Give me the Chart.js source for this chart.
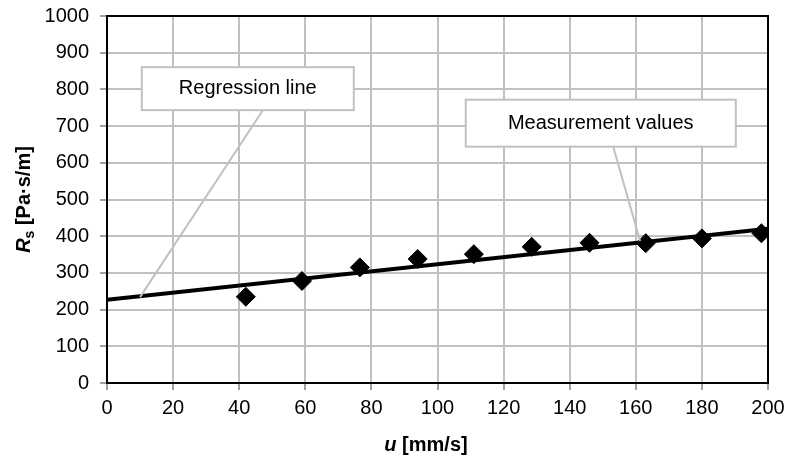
<!DOCTYPE html>
<html>
<head>
<meta charset="utf-8">
<script src="https://cdn.jsdelivr.net/npm/chart.js@4.4.0/dist/chart.umd.min.js"></script>
<style>
    html, body { margin: 0; padding: 0; background: #fff; }
    #wrap { width: 801px; height: 466px; }
</style>
</head>
<body>
<div id="wrap"><canvas id="resistanceChart"></canvas></div>
<script>
const velocity = [42, 59, 76.5, 94, 111, 128.5, 146, 163, 180, 198];
const resistance = [235, 278, 315, 338, 351, 371, 382, 381, 394, 408];

// regression line end points
const regressionU = [0, 200];
const regressionR = [227, 420];

const xTickValues = [0, 20, 40, 60, 80, 100, 120, 140, 160, 180, 200];
const yTickValues = [0, 100, 200, 300, 400, 500, 600, 700, 800, 900, 1000];

const calloutTexts = ["Regression line", "Measurement values"];

const FONT = "'Liberation Sans', Arial, sans-serif";
const GRID = '#c0c0c0';

// callout placement in data units (box centre, leader start and tip)
const calloutLayout = [
    { box: [42.6, 802], w: 212, h: 43, from: [47.2, 744], to: [10, 234] },
    { box: [149.4, 708], w: 270, h: 47, from: [153.2, 643], to: [161.3, 387] }
];

function drawRich(ctx, parts) {
    let total = 0;
    parts.forEach(p => {
        ctx.font = p.font;
        p.w = ctx.measureText(p.text).width;
        total += p.w;
    });
    let x = -total / 2;
    parts.forEach(p => {
        ctx.font = p.font;
        ctx.fillText(p.text, x, p.dy || 0);
        x += p.w;
    });
}

const framePlugin = {
    id: 'frame',
    beforeDatasetsDraw(chart) {
        const { ctx, chartArea: a } = chart;
        ctx.save();
        ctx.strokeStyle = '#000';
        ctx.lineWidth = 2;
        ctx.strokeRect(a.left, a.top, a.right - a.left, a.bottom - a.top);
        ctx.restore();
    }
};

const calloutPlugin = {
    id: 'callouts',
    afterDatasetsDraw(chart) {
        const { ctx } = chart;
        const xs = chart.scales.x, ys = chart.scales.y;
        ctx.save();
        calloutLayout.forEach((c, i) => {
            ctx.strokeStyle = GRID;
            ctx.lineWidth = 2;
            ctx.beginPath();
            ctx.moveTo(xs.getPixelForValue(c.from[0]), ys.getPixelForValue(c.from[1]));
            ctx.lineTo(xs.getPixelForValue(c.to[0]), ys.getPixelForValue(c.to[1]));
            ctx.stroke();

            const cx = xs.getPixelForValue(c.box[0]);
            const cy = ys.getPixelForValue(c.box[1]);
            ctx.fillStyle = '#fff';
            ctx.fillRect(cx - c.w / 2, cy - c.h / 2, c.w, c.h);
            ctx.strokeRect(cx - c.w / 2, cy - c.h / 2, c.w, c.h);

            ctx.fillStyle = '#000';
            ctx.font = '20px ' + FONT;
            ctx.textAlign = 'center';
            ctx.textBaseline = 'middle';
            ctx.fillText(calloutTexts[i], cx, cy);
        });
        ctx.restore();
    }
};

const axisTitlePlugin = {
    id: 'axisTitles',
    afterDraw(chart) {
        const { ctx, chartArea: a } = chart;
        ctx.save();
        ctx.fillStyle = '#000';
        ctx.textAlign = 'left';
        ctx.textBaseline = 'alphabetic';

        // y title, rotated
        ctx.save();
        ctx.translate(23, (a.top + a.bottom) / 2);
        ctx.rotate(-Math.PI / 2);
        drawRich(ctx, [
            { text: 'R', font: 'italic bold 20px ' + FONT, dy: 7 },
            { text: 's', font: 'bold 14px ' + FONT, dy: 11 },
            { text: ' [Pa\u00b7s/m]', font: 'bold 20px ' + FONT, dy: 7 }
        ]);
        ctx.restore();

        // x title
        ctx.save();
        ctx.translate(426, 444);
        drawRich(ctx, [
            { text: 'u', font: 'italic bold 20px ' + FONT, dy: 7 },
            { text: ' [mm/s]', font: 'bold 20px ' + FONT, dy: 7 }
        ]);
        ctx.restore();
        ctx.restore();
    }
};

const measured = velocity.map((u, i) => ({ x: u, y: resistance[i] }));
const regression = regressionU.map((u, i) => ({ x: u, y: regressionR[i] }));

new Chart(document.getElementById('resistanceChart').getContext('2d'), {
    type: 'scatter',
    data: {
        datasets: [{
            label: 'Measurement values',
            data: measured,
            pointStyle: 'rectRot',
            pointRadius: 9.5,
            backgroundColor: '#000',
            borderColor: '#000',
            borderWidth: 1
        }, {
            type: 'line',
            label: 'Regression line',
            data: regression,
            borderColor: '#000',
            borderWidth: 4,
            pointRadius: 0,
            fill: false
        }]
    },
    options: {
        responsive: true,
        maintainAspectRatio: false,
        animation: false,
        layout: { padding: { top: 16, right: 33, bottom: 0, left: 0 } },
        plugins: {
            legend: { display: false },
            tooltip: { enabled: false }
        },
        scales: {
            x: {
                type: 'linear',
                min: 0,
                max: 200,
                afterBuildTicks: s => { s.ticks = xTickValues.map(v => ({ value: v })); },
                afterFit: s => { s.height = 83; s.paddingLeft = 0; s.paddingRight = 0; },
                grid: { color: GRID, lineWidth: 2, tickLength: 7, tickColor: '#a0a0a0' },
                border: { color: '#000', width: 2 },
                ticks: {
                    color: '#000', font: { family: FONT, size: 20 }, padding: 6, maxRotation: 0,
                    callback: v => String(v)
                }
            },
            y: {
                min: 0,
                max: 1000,
                afterBuildTicks: s => { s.ticks = yTickValues.map(v => ({ value: v })); },
                afterFit: s => { s.width = 107; s.paddingTop = 0; s.paddingBottom = 0; },
                grid: { color: GRID, lineWidth: 2, tickLength: 7, tickColor: '#a0a0a0' },
                border: { color: '#000', width: 2 },
                ticks: {
                    color: '#000', font: { family: FONT, size: 20 }, padding: 11,
                    callback: v => String(v)
                }
            }
        }
    },
    plugins: [framePlugin, calloutPlugin, axisTitlePlugin]
});
</script>
</body>
</html>
